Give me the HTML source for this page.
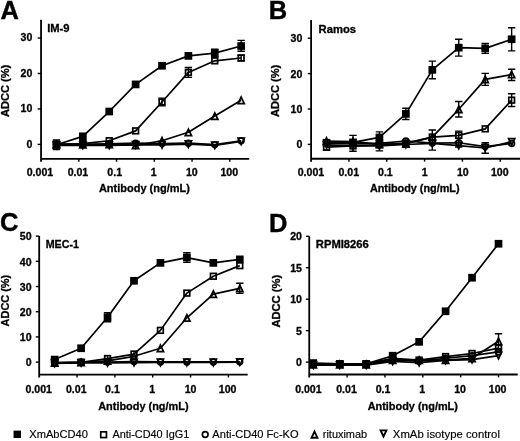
<!DOCTYPE html>
<html><head><meta charset="utf-8"><style>
html,body{margin:0;padding:0;background:#fff;}
body{width:520px;height:441px;overflow:hidden;}
svg{display:block;will-change:transform;}
text{font-family:"Liberation Sans", sans-serif;fill:#000;}
.tl{font-size:10.6px;font-weight:bold;stroke:#000;stroke-width:0.3px;}
.at{font-size:11.2px;font-weight:bold;stroke:#000;stroke-width:0.3px;}
.pl{font-size:25.5px;font-weight:bold;stroke:#000;stroke-width:0.4px;}
.nm{font-size:10.9px;font-weight:bold;stroke:#000;stroke-width:0.3px;}
.lg{font-size:11px;stroke:#000;stroke-width:0.15px;}
</style></head><body>
<svg width="520" height="441" viewBox="0 0 520 441">
<rect width="520" height="441" fill="#fff"/>
<path d="M41.05,19.70V161.70M40.15,158.80H249.20" stroke="#000" stroke-width="1.8" fill="none"/>
<path d="M37.65,144.40H41.05" stroke="#000" stroke-width="1.4"/>
<text x="32.35" y="147.70" text-anchor="end" class="tl">0</text>
<path d="M37.65,108.95H41.05" stroke="#000" stroke-width="1.4"/>
<text x="32.35" y="112.25" text-anchor="end" class="tl">10</text>
<path d="M37.65,73.50H41.05" stroke="#000" stroke-width="1.4"/>
<text x="32.35" y="76.80" text-anchor="end" class="tl">20</text>
<path d="M37.65,38.05H41.05" stroke="#000" stroke-width="1.4"/>
<text x="32.35" y="41.35" text-anchor="end" class="tl">30</text>
<text x="39.94" y="176.10" text-anchor="middle" class="tl">0.001</text>
<path d="M78.80,158.80V161.70" stroke="#000" stroke-width="1.4"/>
<text x="77.94" y="176.10" text-anchor="middle" class="tl">0.01</text>
<path d="M116.55,158.80V161.70" stroke="#000" stroke-width="1.4"/>
<text x="114.69" y="176.10" text-anchor="middle" class="tl">0.1</text>
<path d="M154.30,158.80V161.70" stroke="#000" stroke-width="1.4"/>
<text x="153.61" y="176.10" text-anchor="middle" class="tl">1</text>
<path d="M192.05,158.80V161.70" stroke="#000" stroke-width="1.4"/>
<text x="191.83" y="176.10" text-anchor="middle" class="tl">10</text>
<path d="M229.80,158.80V161.70" stroke="#000" stroke-width="1.4"/>
<text x="229.23" y="176.10" text-anchor="middle" class="tl">100</text>
<text x="98.90" y="191.80" textLength="91.00" lengthAdjust="spacingAndGlyphs" class="at">Antibody (ng/mL)</text>
<text transform="translate(8.90,117.00) rotate(-90)" textLength="52.20" lengthAdjust="spacingAndGlyphs" class="at">ADCC (%)</text>
<text x="0.50" y="18.60" class="pl">A</text>
<text x="47.20" y="31.90" textLength="22.40" lengthAdjust="spacingAndGlyphs" class="nm">IM-9</text>
<polyline points="56.46,145.31 82.85,145.31 109.23,145.31 135.62,144.96 162.01,144.96 188.39,144.25 214.78,145.31 241.16,141.44" fill="none" stroke="#000" stroke-width="1.7" stroke-linejoin="round"/>
<polyline points="56.46,144.25 82.85,144.25 109.23,143.90 135.62,143.20 162.01,143.55 188.39,143.20 214.78,144.60 241.16,140.73" fill="none" stroke="#000" stroke-width="1.7" stroke-linejoin="round"/>
<polyline points="56.46,144.60 82.85,144.60 109.23,144.25 135.62,145.31 162.01,140.73 188.39,132.28 214.78,116.09 241.16,100.25" fill="none" stroke="#000" stroke-width="1.7" stroke-linejoin="round"/>
<polyline points="56.46,144.25 82.85,143.55 109.23,140.73 135.62,130.88 162.01,102.01 188.39,72.44 214.78,60.83 241.16,58.01" fill="none" stroke="#000" stroke-width="1.7" stroke-linejoin="round"/>
<polyline points="56.46,144.78 82.85,136.33 109.23,111.52 135.62,84.41 162.01,65.76 188.39,55.90 214.78,53.08 241.16,46.04" fill="none" stroke="#000" stroke-width="1.7" stroke-linejoin="round"/>
<path d="M162.01,98.14V105.88M158.31,98.14H165.71M158.31,105.88H165.71" stroke="#000" stroke-width="1.4" fill="none"/>
<path d="M188.39,67.52V77.37M184.69,67.52H192.09M184.69,77.37H192.09" stroke="#000" stroke-width="1.4" fill="none"/>
<path d="M241.16,55.20V60.83M237.46,55.20H244.86M237.46,60.83H244.86" stroke="#000" stroke-width="1.4" fill="none"/>
<path d="M241.16,40.41V51.32M237.46,40.41H244.86M237.46,51.32H244.86" stroke="#000" stroke-width="1.4" fill="none"/>
<path d="M214.78,49.21V56.96M211.08,49.21H218.48M211.08,56.96H218.48" stroke="#000" stroke-width="1.4" fill="none"/>
<path d="M56.46,140.03V149.53M52.76,140.03H60.16M52.76,149.53H60.16" stroke="#000" stroke-width="1.4" fill="none"/>
<polygon points="56.46,148.51 59.61,142.01 53.32,142.01" fill="none" stroke="#000" stroke-width="1.7"/>
<polygon points="82.85,148.51 85.99,142.01 79.70,142.01" fill="none" stroke="#000" stroke-width="1.7"/>
<polygon points="109.23,148.51 112.38,142.01 106.09,142.01" fill="none" stroke="#000" stroke-width="1.7"/>
<polygon points="135.62,148.15 138.76,141.66 132.47,141.66" fill="none" stroke="#000" stroke-width="1.7"/>
<polygon points="162.01,148.15 165.15,141.66 158.86,141.66" fill="none" stroke="#000" stroke-width="1.7"/>
<polygon points="188.39,147.45 191.54,140.95 185.25,140.95" fill="none" stroke="#000" stroke-width="1.7"/>
<polygon points="214.78,148.51 217.92,142.01 211.63,142.01" fill="none" stroke="#000" stroke-width="1.7"/>
<polygon points="241.16,144.63 244.31,138.14 238.02,138.14" fill="none" stroke="#000" stroke-width="1.7"/>
<circle cx="56.46" cy="144.25" r="2.85" fill="none" stroke="#000" stroke-width="1.7"/>
<circle cx="82.85" cy="144.25" r="2.85" fill="none" stroke="#000" stroke-width="1.7"/>
<circle cx="109.23" cy="143.90" r="2.85" fill="none" stroke="#000" stroke-width="1.7"/>
<circle cx="135.62" cy="143.20" r="2.85" fill="none" stroke="#000" stroke-width="1.7"/>
<circle cx="162.01" cy="143.55" r="2.85" fill="none" stroke="#000" stroke-width="1.7"/>
<circle cx="188.39" cy="143.20" r="2.85" fill="none" stroke="#000" stroke-width="1.7"/>
<circle cx="214.78" cy="144.60" r="2.85" fill="none" stroke="#000" stroke-width="1.7"/>
<circle cx="241.16" cy="140.73" r="2.85" fill="none" stroke="#000" stroke-width="1.7"/>
<polygon points="56.46,141.41 59.61,147.90 53.32,147.90" fill="none" stroke="#000" stroke-width="1.7"/>
<polygon points="82.85,141.41 85.99,147.90 79.70,147.90" fill="none" stroke="#000" stroke-width="1.7"/>
<polygon points="109.23,141.05 112.38,147.55 106.09,147.55" fill="none" stroke="#000" stroke-width="1.7"/>
<polygon points="135.62,142.11 138.76,148.61 132.47,148.61" fill="none" stroke="#000" stroke-width="1.7"/>
<polygon points="162.01,137.53 165.15,144.03 158.86,144.03" fill="none" stroke="#000" stroke-width="1.7"/>
<polygon points="188.39,129.09 191.54,135.58 185.25,135.58" fill="none" stroke="#000" stroke-width="1.7"/>
<polygon points="214.78,112.89 217.92,119.39 211.63,119.39" fill="none" stroke="#000" stroke-width="1.7"/>
<polygon points="241.16,97.05 244.31,103.55 238.02,103.55" fill="none" stroke="#000" stroke-width="1.7"/>
<rect x="53.61" y="141.40" width="5.70" height="5.70" fill="none" stroke="#000" stroke-width="1.7"/>
<rect x="80.00" y="140.70" width="5.70" height="5.70" fill="none" stroke="#000" stroke-width="1.7"/>
<rect x="106.38" y="137.88" width="5.70" height="5.70" fill="none" stroke="#000" stroke-width="1.7"/>
<rect x="132.77" y="128.03" width="5.70" height="5.70" fill="none" stroke="#000" stroke-width="1.7"/>
<rect x="159.16" y="99.16" width="5.70" height="5.70" fill="none" stroke="#000" stroke-width="1.7"/>
<rect x="185.54" y="69.59" width="5.70" height="5.70" fill="none" stroke="#000" stroke-width="1.7"/>
<rect x="211.93" y="57.98" width="5.70" height="5.70" fill="none" stroke="#000" stroke-width="1.7"/>
<rect x="238.31" y="55.16" width="5.70" height="5.70" fill="none" stroke="#000" stroke-width="1.7"/>
<rect x="52.61" y="140.93" width="7.70" height="7.70" fill="#000"/>
<rect x="79.00" y="132.48" width="7.70" height="7.70" fill="#000"/>
<rect x="105.38" y="107.67" width="7.70" height="7.70" fill="#000"/>
<rect x="131.77" y="80.56" width="7.70" height="7.70" fill="#000"/>
<rect x="158.16" y="61.91" width="7.70" height="7.70" fill="#000"/>
<rect x="184.54" y="52.05" width="7.70" height="7.70" fill="#000"/>
<rect x="210.93" y="49.23" width="7.70" height="7.70" fill="#000"/>
<rect x="237.31" y="42.19" width="7.70" height="7.70" fill="#000"/>
<path d="M311.10,20.00V161.65M310.20,158.75H520.00" stroke="#000" stroke-width="1.8" fill="none"/>
<path d="M307.70,144.40H311.10" stroke="#000" stroke-width="1.4"/>
<text x="302.30" y="148.40" text-anchor="end" class="tl">0</text>
<path d="M307.70,109.00H311.10" stroke="#000" stroke-width="1.4"/>
<text x="302.30" y="113.00" text-anchor="end" class="tl">10</text>
<path d="M307.70,73.60H311.10" stroke="#000" stroke-width="1.4"/>
<text x="302.30" y="77.60" text-anchor="end" class="tl">20</text>
<path d="M307.70,38.20H311.10" stroke="#000" stroke-width="1.4"/>
<text x="302.30" y="42.20" text-anchor="end" class="tl">30</text>
<text x="310.94" y="176.00" text-anchor="middle" class="tl">0.001</text>
<path d="M348.93,158.75V161.65" stroke="#000" stroke-width="1.4"/>
<text x="348.79" y="176.00" text-anchor="middle" class="tl">0.01</text>
<path d="M386.76,158.75V161.65" stroke="#000" stroke-width="1.4"/>
<text x="385.39" y="176.00" text-anchor="middle" class="tl">0.1</text>
<path d="M424.59,158.75V161.65" stroke="#000" stroke-width="1.4"/>
<text x="424.71" y="176.00" text-anchor="middle" class="tl">1</text>
<path d="M462.42,158.75V161.65" stroke="#000" stroke-width="1.4"/>
<text x="462.88" y="176.00" text-anchor="middle" class="tl">10</text>
<path d="M500.25,158.75V161.65" stroke="#000" stroke-width="1.4"/>
<text x="499.78" y="176.00" text-anchor="middle" class="tl">100</text>
<text x="369.90" y="192.00" textLength="89.70" lengthAdjust="spacingAndGlyphs" class="at">Antibody (ng/mL)</text>
<text transform="translate(278.90,117.00) rotate(-90)" textLength="52.20" lengthAdjust="spacingAndGlyphs" class="at">ADCC (%)</text>
<text x="268.80" y="18.60" class="pl">B</text>
<text x="318.60" y="32.80" textLength="37.50" lengthAdjust="spacingAndGlyphs" class="nm">Ramos</text>
<polyline points="326.54,144.86 352.99,145.91 379.43,145.91 405.87,144.50 432.31,143.45 458.75,145.56 485.20,148.02 511.64,141.86" fill="none" stroke="#000" stroke-width="1.7" stroke-linejoin="round"/>
<polyline points="326.54,143.10 352.99,143.80 379.43,143.45 405.87,140.98 432.31,143.10 458.75,142.74 485.20,146.62 511.64,143.45" fill="none" stroke="#000" stroke-width="1.7" stroke-linejoin="round"/>
<polyline points="326.54,140.98 352.99,141.69 379.43,144.15 405.87,143.80 432.31,137.11 458.75,109.30 485.20,79.38 511.64,74.46" fill="none" stroke="#000" stroke-width="1.7" stroke-linejoin="round"/>
<polyline points="326.54,147.21 352.99,145.91 379.43,144.86 405.87,143.10 432.31,137.11 458.75,135.35 485.20,128.84 511.64,100.15" fill="none" stroke="#000" stroke-width="1.7" stroke-linejoin="round"/>
<polyline points="326.54,142.74 352.99,142.39 379.43,137.46 405.87,113.88 432.31,69.88 458.75,47.70 485.20,48.41 511.64,39.26" fill="none" stroke="#000" stroke-width="1.7" stroke-linejoin="round"/>
<path d="M485.20,142.74V153.30M481.50,142.74H488.90M481.50,153.30H488.90" stroke="#000" stroke-width="1.4" fill="none"/>
<path d="M379.43,140.28V150.84M375.73,140.28H383.13M375.73,150.84H383.13" stroke="#000" stroke-width="1.4" fill="none"/>
<path d="M485.20,73.40V85.37M481.50,73.40H488.90M481.50,85.37H488.90" stroke="#000" stroke-width="1.4" fill="none"/>
<path d="M511.64,69.18V80.44M507.94,69.18H515.34M507.94,80.44H515.34" stroke="#000" stroke-width="1.4" fill="none"/>
<path d="M458.75,101.56V117.05M455.05,101.56H462.45M455.05,117.05H462.45" stroke="#000" stroke-width="1.4" fill="none"/>
<path d="M432.31,130.07V150.14M428.61,130.07H436.01M428.61,150.14H436.01" stroke="#000" stroke-width="1.4" fill="none"/>
<path d="M511.64,93.82V106.49M507.94,93.82H515.34M507.94,106.49H515.34" stroke="#000" stroke-width="1.4" fill="none"/>
<path d="M458.75,131.13V146.97M455.05,131.13H462.45M455.05,146.97H462.45" stroke="#000" stroke-width="1.4" fill="none"/>
<path d="M326.54,141.69V150.14M322.84,141.69H330.24M322.84,150.14H330.24" stroke="#000" stroke-width="1.4" fill="none"/>
<path d="M432.31,61.08V78.68M428.61,61.08H436.01M428.61,78.68H436.01" stroke="#000" stroke-width="1.4" fill="none"/>
<path d="M458.75,39.26V56.15M455.05,39.26H462.45M455.05,56.15H462.45" stroke="#000" stroke-width="1.4" fill="none"/>
<path d="M485.20,43.48V53.34M481.50,43.48H488.90M481.50,53.34H488.90" stroke="#000" stroke-width="1.4" fill="none"/>
<path d="M511.64,27.82V50.87M507.94,27.82H515.34M507.94,50.87H515.34" stroke="#000" stroke-width="1.4" fill="none"/>
<path d="M405.87,108.25V119.51M402.17,108.25H409.57M402.17,119.51H409.57" stroke="#000" stroke-width="1.4" fill="none"/>
<path d="M379.43,131.83V145.21M375.73,131.83H383.13M375.73,145.21H383.13" stroke="#000" stroke-width="1.4" fill="none"/>
<path d="M352.99,135.35V151.19M349.29,135.35H356.69M349.29,151.19H356.69" stroke="#000" stroke-width="1.4" fill="none"/>
<polygon points="326.54,148.05 329.69,141.56 323.40,141.56" fill="none" stroke="#000" stroke-width="1.7"/>
<polygon points="352.99,149.11 356.13,142.61 349.84,142.61" fill="none" stroke="#000" stroke-width="1.7"/>
<polygon points="379.43,149.11 382.57,142.61 376.28,142.61" fill="none" stroke="#000" stroke-width="1.7"/>
<polygon points="405.87,147.70 409.01,141.20 402.73,141.20" fill="none" stroke="#000" stroke-width="1.7"/>
<polygon points="432.31,146.65 435.46,140.15 429.17,140.15" fill="none" stroke="#000" stroke-width="1.7"/>
<polygon points="458.75,148.76 461.90,142.26 455.61,142.26" fill="none" stroke="#000" stroke-width="1.7"/>
<polygon points="485.20,151.22 488.34,144.72 482.05,144.72" fill="none" stroke="#000" stroke-width="1.7"/>
<polygon points="511.64,145.06 514.78,138.56 508.49,138.56" fill="none" stroke="#000" stroke-width="1.7"/>
<circle cx="326.54" cy="143.10" r="2.85" fill="none" stroke="#000" stroke-width="1.7"/>
<circle cx="352.99" cy="143.80" r="2.85" fill="none" stroke="#000" stroke-width="1.7"/>
<circle cx="379.43" cy="143.45" r="2.85" fill="none" stroke="#000" stroke-width="1.7"/>
<circle cx="405.87" cy="140.98" r="2.85" fill="none" stroke="#000" stroke-width="1.7"/>
<circle cx="432.31" cy="143.10" r="2.85" fill="none" stroke="#000" stroke-width="1.7"/>
<circle cx="458.75" cy="142.74" r="2.85" fill="none" stroke="#000" stroke-width="1.7"/>
<circle cx="485.20" cy="146.62" r="2.85" fill="none" stroke="#000" stroke-width="1.7"/>
<circle cx="511.64" cy="143.45" r="2.85" fill="none" stroke="#000" stroke-width="1.7"/>
<polygon points="326.54,137.79 329.69,144.28 323.40,144.28" fill="none" stroke="#000" stroke-width="1.7"/>
<polygon points="352.99,138.49 356.13,144.99 349.84,144.99" fill="none" stroke="#000" stroke-width="1.7"/>
<polygon points="379.43,140.95 382.57,147.45 376.28,147.45" fill="none" stroke="#000" stroke-width="1.7"/>
<polygon points="405.87,140.60 409.01,147.10 402.73,147.10" fill="none" stroke="#000" stroke-width="1.7"/>
<polygon points="432.31,133.91 435.46,140.41 429.17,140.41" fill="none" stroke="#000" stroke-width="1.7"/>
<polygon points="458.75,106.11 461.90,112.60 455.61,112.60" fill="none" stroke="#000" stroke-width="1.7"/>
<polygon points="485.20,76.19 488.34,82.68 482.05,82.68" fill="none" stroke="#000" stroke-width="1.7"/>
<polygon points="511.64,71.26 514.78,77.76 508.49,77.76" fill="none" stroke="#000" stroke-width="1.7"/>
<rect x="323.69" y="144.36" width="5.70" height="5.70" fill="none" stroke="#000" stroke-width="1.7"/>
<rect x="350.14" y="143.06" width="5.70" height="5.70" fill="none" stroke="#000" stroke-width="1.7"/>
<rect x="376.58" y="142.01" width="5.70" height="5.70" fill="none" stroke="#000" stroke-width="1.7"/>
<rect x="403.02" y="140.25" width="5.70" height="5.70" fill="none" stroke="#000" stroke-width="1.7"/>
<rect x="429.46" y="134.26" width="5.70" height="5.70" fill="none" stroke="#000" stroke-width="1.7"/>
<rect x="455.90" y="132.50" width="5.70" height="5.70" fill="none" stroke="#000" stroke-width="1.7"/>
<rect x="482.35" y="125.99" width="5.70" height="5.70" fill="none" stroke="#000" stroke-width="1.7"/>
<rect x="508.79" y="97.30" width="5.70" height="5.70" fill="none" stroke="#000" stroke-width="1.7"/>
<rect x="322.69" y="138.89" width="7.70" height="7.70" fill="#000"/>
<rect x="349.14" y="138.54" width="7.70" height="7.70" fill="#000"/>
<rect x="375.58" y="133.61" width="7.70" height="7.70" fill="#000"/>
<rect x="402.02" y="110.03" width="7.70" height="7.70" fill="#000"/>
<rect x="428.46" y="66.03" width="7.70" height="7.70" fill="#000"/>
<rect x="454.90" y="43.85" width="7.70" height="7.70" fill="#000"/>
<rect x="481.35" y="44.56" width="7.70" height="7.70" fill="#000"/>
<rect x="507.79" y="35.41" width="7.70" height="7.70" fill="#000"/>
<path d="M39.20,236.00V377.50M38.30,374.60H247.70" stroke="#000" stroke-width="1.8" fill="none"/>
<path d="M35.80,362.10H39.20" stroke="#000" stroke-width="1.4"/>
<text x="31.60" y="366.30" text-anchor="end" class="tl">0</text>
<path d="M35.80,336.90H39.20" stroke="#000" stroke-width="1.4"/>
<text x="31.60" y="341.10" text-anchor="end" class="tl">10</text>
<path d="M35.80,311.70H39.20" stroke="#000" stroke-width="1.4"/>
<text x="31.60" y="315.90" text-anchor="end" class="tl">20</text>
<path d="M35.80,286.50H39.20" stroke="#000" stroke-width="1.4"/>
<text x="31.60" y="290.70" text-anchor="end" class="tl">30</text>
<path d="M35.80,261.30H39.20" stroke="#000" stroke-width="1.4"/>
<text x="31.60" y="265.50" text-anchor="end" class="tl">40</text>
<path d="M35.80,236.10H39.20" stroke="#000" stroke-width="1.4"/>
<text x="31.60" y="240.30" text-anchor="end" class="tl">50</text>
<text x="38.69" y="393.00" text-anchor="middle" class="tl">0.001</text>
<path d="M77.04,374.60V377.50" stroke="#000" stroke-width="1.4"/>
<text x="76.29" y="393.00" text-anchor="middle" class="tl">0.01</text>
<path d="M114.88,374.60V377.50" stroke="#000" stroke-width="1.4"/>
<text x="112.49" y="393.00" text-anchor="middle" class="tl">0.1</text>
<path d="M152.72,374.60V377.50" stroke="#000" stroke-width="1.4"/>
<text x="152.31" y="393.00" text-anchor="middle" class="tl">1</text>
<path d="M190.56,374.60V377.50" stroke="#000" stroke-width="1.4"/>
<text x="190.58" y="393.00" text-anchor="middle" class="tl">10</text>
<path d="M228.40,374.60V377.50" stroke="#000" stroke-width="1.4"/>
<text x="227.63" y="393.00" text-anchor="middle" class="tl">100</text>
<text x="98.20" y="409.60" textLength="90.40" lengthAdjust="spacingAndGlyphs" class="at">Antibody (ng/mL)</text>
<text transform="translate(8.90,326.40) rotate(-90)" textLength="51.60" lengthAdjust="spacingAndGlyphs" class="at">ADCC (%)</text>
<text x="0.00" y="231.00" class="pl">C</text>
<text x="45.70" y="248.30" textLength="33.30" lengthAdjust="spacingAndGlyphs" class="nm">MEC-1</text>
<polyline points="54.65,363.36 81.10,362.86 107.55,362.86 133.99,362.60 160.44,362.48 186.89,362.48 213.34,362.48 239.79,362.23" fill="none" stroke="#000" stroke-width="1.7" stroke-linejoin="round"/>
<polyline points="54.65,362.86 81.10,362.10 107.55,362.10 133.99,361.60 160.44,361.97 186.89,361.97 213.34,361.97 239.79,361.85" fill="none" stroke="#000" stroke-width="1.7" stroke-linejoin="round"/>
<polyline points="54.65,362.86 81.10,362.35 107.55,360.84 133.99,356.31 160.44,348.25 186.89,317.78 213.34,294.11 239.79,288.32" fill="none" stroke="#000" stroke-width="1.7" stroke-linejoin="round"/>
<polyline points="54.65,362.60 81.10,362.35 107.55,358.57 133.99,354.04 160.44,330.37 186.89,293.11 213.34,276.24 239.79,265.66" fill="none" stroke="#000" stroke-width="1.7" stroke-linejoin="round"/>
<polyline points="54.65,359.58 81.10,348.25 107.55,317.28 133.99,280.77 160.44,262.89 186.89,257.60 213.34,262.89 239.79,259.37" fill="none" stroke="#000" stroke-width="1.7" stroke-linejoin="round"/>
<path d="M239.79,283.29V293.36M236.09,283.29H243.49M236.09,293.36H243.49" stroke="#000" stroke-width="1.4" fill="none"/>
<path d="M107.55,312.75V321.81M103.85,312.75H111.25M103.85,321.81H111.25" stroke="#000" stroke-width="1.4" fill="none"/>
<path d="M186.89,252.82V262.39M183.19,252.82H190.59M183.19,262.39H190.59" stroke="#000" stroke-width="1.4" fill="none"/>
<polygon points="54.65,366.56 57.79,360.06 51.50,360.06" fill="none" stroke="#000" stroke-width="1.7"/>
<polygon points="81.10,366.05 84.24,359.56 77.95,359.56" fill="none" stroke="#000" stroke-width="1.7"/>
<polygon points="107.55,366.05 110.69,359.56 104.40,359.56" fill="none" stroke="#000" stroke-width="1.7"/>
<polygon points="133.99,365.80 137.14,359.30 130.85,359.30" fill="none" stroke="#000" stroke-width="1.7"/>
<polygon points="160.44,365.68 163.59,359.18 157.30,359.18" fill="none" stroke="#000" stroke-width="1.7"/>
<polygon points="186.89,365.68 190.04,359.18 183.75,359.18" fill="none" stroke="#000" stroke-width="1.7"/>
<polygon points="213.34,365.68 216.49,359.18 210.20,359.18" fill="none" stroke="#000" stroke-width="1.7"/>
<polygon points="239.79,365.42 242.94,358.93 236.65,358.93" fill="none" stroke="#000" stroke-width="1.7"/>
<circle cx="54.65" cy="362.86" r="2.85" fill="none" stroke="#000" stroke-width="1.7"/>
<circle cx="81.10" cy="362.10" r="2.85" fill="none" stroke="#000" stroke-width="1.7"/>
<circle cx="107.55" cy="362.10" r="2.85" fill="none" stroke="#000" stroke-width="1.7"/>
<circle cx="133.99" cy="361.60" r="2.85" fill="none" stroke="#000" stroke-width="1.7"/>
<circle cx="160.44" cy="361.97" r="2.85" fill="none" stroke="#000" stroke-width="1.7"/>
<circle cx="186.89" cy="361.97" r="2.85" fill="none" stroke="#000" stroke-width="1.7"/>
<circle cx="213.34" cy="361.97" r="2.85" fill="none" stroke="#000" stroke-width="1.7"/>
<circle cx="239.79" cy="361.85" r="2.85" fill="none" stroke="#000" stroke-width="1.7"/>
<polygon points="54.65,359.66 57.79,366.16 51.50,366.16" fill="none" stroke="#000" stroke-width="1.7"/>
<polygon points="81.10,359.15 84.24,365.65 77.95,365.65" fill="none" stroke="#000" stroke-width="1.7"/>
<polygon points="107.55,357.64 110.69,364.14 104.40,364.14" fill="none" stroke="#000" stroke-width="1.7"/>
<polygon points="133.99,353.11 137.14,359.61 130.85,359.61" fill="none" stroke="#000" stroke-width="1.7"/>
<polygon points="160.44,345.05 163.59,351.55 157.30,351.55" fill="none" stroke="#000" stroke-width="1.7"/>
<polygon points="186.89,314.58 190.04,321.08 183.75,321.08" fill="none" stroke="#000" stroke-width="1.7"/>
<polygon points="213.34,290.92 216.49,297.41 210.20,297.41" fill="none" stroke="#000" stroke-width="1.7"/>
<polygon points="239.79,285.12 242.94,291.62 236.65,291.62" fill="none" stroke="#000" stroke-width="1.7"/>
<rect x="51.80" y="359.75" width="5.70" height="5.70" fill="none" stroke="#000" stroke-width="1.7"/>
<rect x="78.25" y="359.50" width="5.70" height="5.70" fill="none" stroke="#000" stroke-width="1.7"/>
<rect x="104.70" y="355.72" width="5.70" height="5.70" fill="none" stroke="#000" stroke-width="1.7"/>
<rect x="131.14" y="351.19" width="5.70" height="5.70" fill="none" stroke="#000" stroke-width="1.7"/>
<rect x="157.59" y="327.52" width="5.70" height="5.70" fill="none" stroke="#000" stroke-width="1.7"/>
<rect x="184.04" y="290.26" width="5.70" height="5.70" fill="none" stroke="#000" stroke-width="1.7"/>
<rect x="210.49" y="273.39" width="5.70" height="5.70" fill="none" stroke="#000" stroke-width="1.7"/>
<rect x="236.94" y="262.81" width="5.70" height="5.70" fill="none" stroke="#000" stroke-width="1.7"/>
<rect x="50.80" y="355.73" width="7.70" height="7.70" fill="#000"/>
<rect x="77.25" y="344.40" width="7.70" height="7.70" fill="#000"/>
<rect x="103.70" y="313.43" width="7.70" height="7.70" fill="#000"/>
<rect x="130.14" y="276.92" width="7.70" height="7.70" fill="#000"/>
<rect x="156.59" y="259.04" width="7.70" height="7.70" fill="#000"/>
<rect x="183.04" y="253.75" width="7.70" height="7.70" fill="#000"/>
<rect x="209.49" y="259.04" width="7.70" height="7.70" fill="#000"/>
<rect x="235.94" y="255.52" width="7.70" height="7.70" fill="#000"/>
<path d="M309.25,236.20V377.40M308.35,374.50H517.70" stroke="#000" stroke-width="1.8" fill="none"/>
<path d="M305.85,362.10H309.25" stroke="#000" stroke-width="1.4"/>
<text x="301.95" y="366.10" text-anchor="end" class="tl">0</text>
<path d="M305.85,330.65H309.25" stroke="#000" stroke-width="1.4"/>
<text x="301.95" y="334.65" text-anchor="end" class="tl">5</text>
<path d="M305.85,299.20H309.25" stroke="#000" stroke-width="1.4"/>
<text x="301.95" y="303.20" text-anchor="end" class="tl">10</text>
<path d="M305.85,267.75H309.25" stroke="#000" stroke-width="1.4"/>
<text x="301.95" y="271.75" text-anchor="end" class="tl">15</text>
<path d="M305.85,236.30H309.25" stroke="#000" stroke-width="1.4"/>
<text x="301.95" y="240.30" text-anchor="end" class="tl">20</text>
<text x="308.39" y="393.20" text-anchor="middle" class="tl">0.001</text>
<path d="M347.10,374.50V377.40" stroke="#000" stroke-width="1.4"/>
<text x="346.49" y="393.20" text-anchor="middle" class="tl">0.01</text>
<path d="M384.95,374.50V377.40" stroke="#000" stroke-width="1.4"/>
<text x="383.09" y="393.20" text-anchor="middle" class="tl">0.1</text>
<path d="M422.80,374.50V377.40" stroke="#000" stroke-width="1.4"/>
<text x="422.31" y="393.20" text-anchor="middle" class="tl">1</text>
<path d="M460.65,374.50V377.40" stroke="#000" stroke-width="1.4"/>
<text x="460.08" y="393.20" text-anchor="middle" class="tl">10</text>
<path d="M498.50,374.50V377.40" stroke="#000" stroke-width="1.4"/>
<text x="497.63" y="393.20" text-anchor="middle" class="tl">100</text>
<text x="367.70" y="409.60" textLength="90.20" lengthAdjust="spacingAndGlyphs" class="at">Antibody (ng/mL)</text>
<text transform="translate(279.60,327.60) rotate(-90)" textLength="52.80" lengthAdjust="spacingAndGlyphs" class="at">ADCC (%)</text>
<text x="268.90" y="231.80" class="pl">D</text>
<text x="315.80" y="247.80" textLength="53.00" lengthAdjust="spacingAndGlyphs" class="nm">RPMI8266</text>
<polyline points="313.31,365.14 339.76,365.14 366.22,365.14 392.68,361.37 419.13,362.63 445.59,360.43 472.04,359.61 498.50,355.71" fill="none" stroke="#000" stroke-width="1.7" stroke-linejoin="round"/>
<polyline points="313.31,363.89 339.76,364.52 366.22,363.89 392.68,359.48 419.13,361.37 445.59,358.23 472.04,355.71 498.50,351.94" fill="none" stroke="#000" stroke-width="1.7" stroke-linejoin="round"/>
<polyline points="313.31,364.52 339.76,364.52 366.22,364.52 392.68,360.11 419.13,360.11 445.59,360.11 472.04,358.23 498.50,341.24" fill="none" stroke="#000" stroke-width="1.7" stroke-linejoin="round"/>
<polyline points="313.31,363.26 339.76,363.89 366.22,363.89 392.68,358.23 419.13,360.11 445.59,356.59 472.04,353.51 498.50,348.16" fill="none" stroke="#000" stroke-width="1.7" stroke-linejoin="round"/>
<polyline points="313.31,363.26 339.76,363.89 366.22,363.89 392.68,355.71 419.13,341.87 445.59,311.30 472.04,277.71 498.50,243.75" fill="none" stroke="#000" stroke-width="1.7" stroke-linejoin="round"/>
<path d="M498.50,333.69V348.79M494.80,333.69H502.20M494.80,348.79H502.20" stroke="#000" stroke-width="1.4" fill="none"/>
<polygon points="313.31,368.34 316.45,361.84 310.16,361.84" fill="none" stroke="#000" stroke-width="1.7"/>
<polygon points="339.76,368.34 342.91,361.84 336.62,361.84" fill="none" stroke="#000" stroke-width="1.7"/>
<polygon points="366.22,368.34 369.36,361.84 363.08,361.84" fill="none" stroke="#000" stroke-width="1.7"/>
<polygon points="392.68,364.57 395.82,358.07 389.53,358.07" fill="none" stroke="#000" stroke-width="1.7"/>
<polygon points="419.13,365.83 422.28,359.33 415.99,359.33" fill="none" stroke="#000" stroke-width="1.7"/>
<polygon points="445.59,363.63 448.73,357.13 442.44,357.13" fill="none" stroke="#000" stroke-width="1.7"/>
<polygon points="472.04,362.81 475.19,356.31 468.90,356.31" fill="none" stroke="#000" stroke-width="1.7"/>
<polygon points="498.50,358.91 501.64,352.41 495.36,352.41" fill="none" stroke="#000" stroke-width="1.7"/>
<circle cx="313.31" cy="363.89" r="2.85" fill="none" stroke="#000" stroke-width="1.7"/>
<circle cx="339.76" cy="364.52" r="2.85" fill="none" stroke="#000" stroke-width="1.7"/>
<circle cx="366.22" cy="363.89" r="2.85" fill="none" stroke="#000" stroke-width="1.7"/>
<circle cx="392.68" cy="359.48" r="2.85" fill="none" stroke="#000" stroke-width="1.7"/>
<circle cx="419.13" cy="361.37" r="2.85" fill="none" stroke="#000" stroke-width="1.7"/>
<circle cx="445.59" cy="358.23" r="2.85" fill="none" stroke="#000" stroke-width="1.7"/>
<circle cx="472.04" cy="355.71" r="2.85" fill="none" stroke="#000" stroke-width="1.7"/>
<circle cx="498.50" cy="351.94" r="2.85" fill="none" stroke="#000" stroke-width="1.7"/>
<polygon points="313.31,361.32 316.45,367.82 310.16,367.82" fill="none" stroke="#000" stroke-width="1.7"/>
<polygon points="339.76,361.32 342.91,367.82 336.62,367.82" fill="none" stroke="#000" stroke-width="1.7"/>
<polygon points="366.22,361.32 369.36,367.82 363.08,367.82" fill="none" stroke="#000" stroke-width="1.7"/>
<polygon points="392.68,356.91 395.82,363.41 389.53,363.41" fill="none" stroke="#000" stroke-width="1.7"/>
<polygon points="419.13,356.91 422.28,363.41 415.99,363.41" fill="none" stroke="#000" stroke-width="1.7"/>
<polygon points="445.59,356.91 448.73,363.41 442.44,363.41" fill="none" stroke="#000" stroke-width="1.7"/>
<polygon points="472.04,355.03 475.19,361.53 468.90,361.53" fill="none" stroke="#000" stroke-width="1.7"/>
<polygon points="498.50,338.04 501.64,344.54 495.36,344.54" fill="none" stroke="#000" stroke-width="1.7"/>
<rect x="310.46" y="360.41" width="5.70" height="5.70" fill="none" stroke="#000" stroke-width="1.7"/>
<rect x="336.91" y="361.04" width="5.70" height="5.70" fill="none" stroke="#000" stroke-width="1.7"/>
<rect x="363.37" y="361.04" width="5.70" height="5.70" fill="none" stroke="#000" stroke-width="1.7"/>
<rect x="389.83" y="355.38" width="5.70" height="5.70" fill="none" stroke="#000" stroke-width="1.7"/>
<rect x="416.28" y="357.26" width="5.70" height="5.70" fill="none" stroke="#000" stroke-width="1.7"/>
<rect x="442.74" y="353.74" width="5.70" height="5.70" fill="none" stroke="#000" stroke-width="1.7"/>
<rect x="469.19" y="350.66" width="5.70" height="5.70" fill="none" stroke="#000" stroke-width="1.7"/>
<rect x="495.65" y="345.31" width="5.70" height="5.70" fill="none" stroke="#000" stroke-width="1.7"/>
<rect x="309.46" y="359.41" width="7.70" height="7.70" fill="#000"/>
<rect x="335.91" y="360.04" width="7.70" height="7.70" fill="#000"/>
<rect x="362.37" y="360.04" width="7.70" height="7.70" fill="#000"/>
<rect x="388.83" y="351.86" width="7.70" height="7.70" fill="#000"/>
<rect x="415.28" y="338.02" width="7.70" height="7.70" fill="#000"/>
<rect x="441.74" y="307.45" width="7.70" height="7.70" fill="#000"/>
<rect x="468.19" y="273.86" width="7.70" height="7.70" fill="#000"/>
<rect x="494.65" y="239.90" width="7.70" height="7.70" fill="#000"/>
<rect x="13.55" y="430.60" width="7.40" height="7.40" fill="#000"/>
<text x="29.26" y="438.1" textLength="58.67" lengthAdjust="spacingAndGlyphs" class="lg">XmAbCD40</text>
<rect x="100.75" y="431.85" width="5.70" height="5.70" fill="none" stroke="#000" stroke-width="1.7"/>
<text x="112.48" y="438.1" textLength="76.76" lengthAdjust="spacingAndGlyphs" class="lg">Anti-CD40 IgG1</text>
<circle cx="205.20" cy="434.50" r="2.85" fill="none" stroke="#000" stroke-width="1.7"/>
<text x="212.38" y="438.1" textLength="86.25" lengthAdjust="spacingAndGlyphs" class="lg">Anti-CD40 Fc-KO</text>
<polygon points="314.50,431.57 317.40,437.70 311.60,437.70" fill="none" stroke="#000" stroke-width="1.9"/>
<text x="322.77" y="438.1" textLength="44.39" lengthAdjust="spacingAndGlyphs" class="lg">rituximab</text>
<polygon points="383.50,436.53 386.40,430.40 380.60,430.40" fill="none" stroke="#000" stroke-width="1.9"/>
<text x="392.86" y="438.1" textLength="107.08" lengthAdjust="spacingAndGlyphs" class="lg">XmAb isotype control</text>
</svg>
</body></html>
